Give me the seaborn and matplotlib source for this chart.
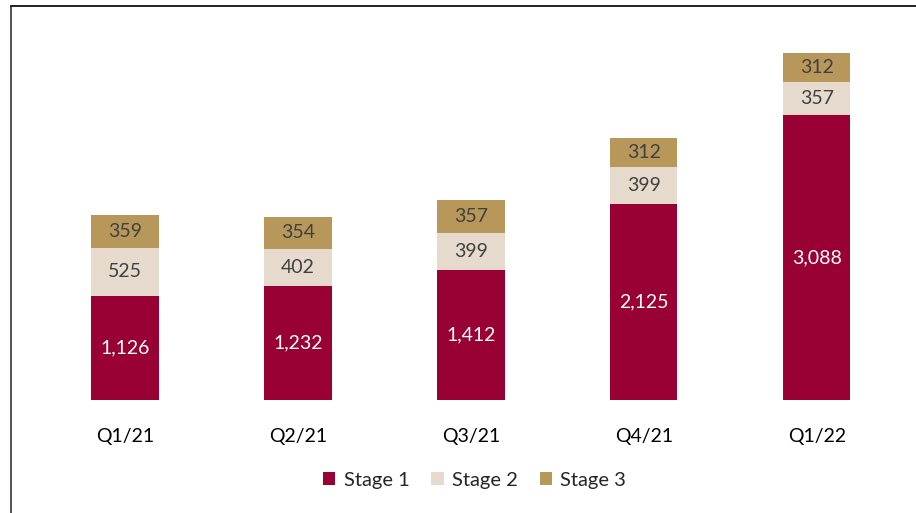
import matplotlib
matplotlib.use("Agg")
import matplotlib.pyplot as plt
from matplotlib.lines import Line2D
from matplotlib.patches import Patch
import seaborn as sns
import pandas as pd

quarters = ["Q1/21", "Q2/21", "Q3/21", "Q4/21", "Q1/22"]
stage1 = [1126, 1232, 1412, 2125, 3088]
stage2 = [525, 402, 399, 399, 357]
stage3 = [359, 354, 357, 312, 312]
series_names = ["Stage 1", "Stage 2", "Stage 3"]
colors = ["#990033", "#E6DACD", "#B8985A"]

sns.set_theme(style="white")
plt.rcParams["font.family"] = ["Lato", "DejaVu Sans"]

df = pd.DataFrame({"quarter": quarters, "s1": stage1, "s2": stage2, "s3": stage3})
df["c1"] = df["s1"]
df["c2"] = df["s1"] + df["s2"]
df["c3"] = df["c2"] + df["s3"]

fig = plt.figure(figsize=(9.16, 5.13), dpi=100)
ax = fig.add_axes([0.042, 0.2203, 0.944, 0.741])

width = 0.39
for col, c in zip(["c3", "c2", "c1"], colors[::-1]):
    sns.barplot(data=df, x="quarter", y=col, color=c, width=width, ax=ax,
                saturation=1, linewidth=0, order=quarters)

for i, row in df.iterrows():
    bottoms = [0, row["c1"], row["c2"]]
    vals = [row["s1"], row["s2"], row["s3"]]
    for b, v, tc in zip(bottoms, vals, ["white", "#404040", "#404040"]):
        ax.text(i, b + v / 2, f"{v:,}", ha="center", va="center",
                color=tc, fontsize=14)

ax.set_xlim(-0.5, 4.5)
ax.set_ylim(0, 4120)
ax.set_xlabel("")
ax.set_ylabel("")
ax.set_yticks([])
ax.tick_params(axis="x", length=0, labelsize=14, colors="black", pad=20)
for s in ax.spines.values():
    s.set_visible(False)

handles = [Patch(facecolor=c, edgecolor="none") for c in colors]
fig.legend(handles, series_names, loc="center", bbox_to_anchor=(0.518, 0.064),
           ncol=3, frameon=False, fontsize=14.5, handlelength=0.6,
           handleheight=0.6, handletextpad=0.4, columnspacing=1.1)

fig.add_artist(Line2D([10.5 / 916, 10.5 / 916], [0, 1 - 5.5 / 513],
                      transform=fig.transFigure, color="#444444", lw=1.3))
fig.add_artist(Line2D([10.5 / 916, 1], [1 - 5.5 / 513, 1 - 5.5 / 513],
                      transform=fig.transFigure, color="#111111", lw=1.3))

fig.savefig("out.png", dpi=100)
